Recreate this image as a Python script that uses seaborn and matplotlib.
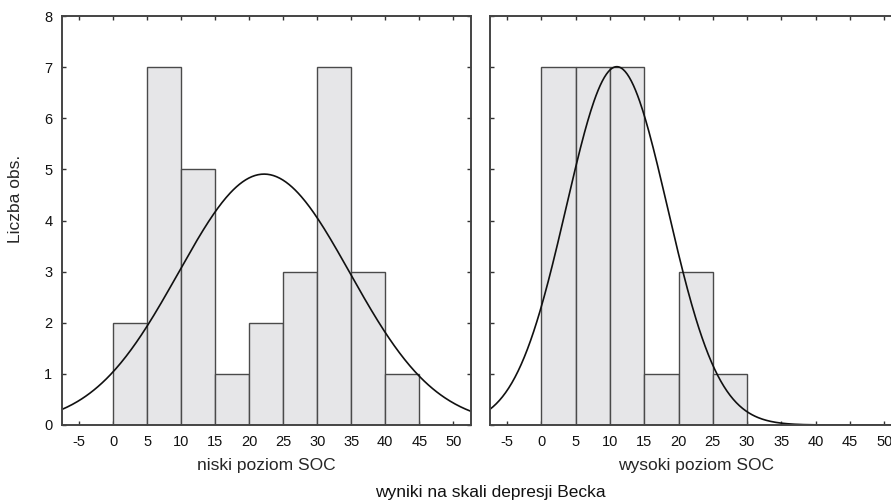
import numpy as np
import pandas as pd
import matplotlib
matplotlib.use("Agg")
import matplotlib.pyplot as plt
import seaborn as sns

# bins of width 5, counts
edges = [0, 5, 10, 15, 20, 25, 30, 35, 40, 45]
low_counts = [2, 7, 5, 1, 2, 3, 7, 3, 1]
high_edges = [0, 5, 10, 15, 20, 25, 30]
high_counts = [7, 7, 7, 1, 3, 1]

# fitted normal curves (mean, sd)
low_mean, low_sd = 22.2, 12.6
high_mean, high_sd = 11.0, 7.4

xticks = [-5, 0, 5, 10, 15, 20, 25, 30, 35, 40, 45, 50]
yticks = [0, 1, 2, 3, 4, 5, 6, 7, 8]

sns.set_style("white")
plt.rcParams["font.family"] = ["Liberation Sans", "DejaVu Sans"]
plt.rcParams["axes.unicode_minus"] = False

fig = plt.figure(figsize=(8.91, 5.04), dpi=100)
W, H = 891, 504
ax1 = fig.add_axes([62 / W, 1 - 425 / H, 409 / W, 409 / H])
ax2 = fig.add_axes([490 / W, 1 - 425 / H, 412 / W, 409 / H])

panels = [
    (ax1, edges, low_counts, low_mean, low_sd, "niski poziom SOC"),
    (ax2, high_edges, high_counts, high_mean, high_sd, "wysoki poziom SOC"),
]

for ax, e, c, mu, sd, lab in panels:
    centers = [(a + b) / 2 for a, b in zip(e[:-1], e[1:])]
    df = pd.DataFrame({"x": centers, "n": c})
    sns.histplot(data=df, x="x", weights="n", bins=e, ax=ax,
                 color="#e6e6e8", edgecolor="#4a4a4a", linewidth=1.0, alpha=1)
    xs = np.linspace(-7.5, 53, 400)
    ys = sum(c) * 5 / (sd * np.sqrt(2 * np.pi)) * np.exp(-0.5 * ((xs - mu) / sd) ** 2)
    ax.plot(xs, ys, color="#111111", lw=1.2)
    ax.set_xlim(-7.5, 52.6)
    ax.set_ylim(0, 8)
    ax.set_xticks(xticks)
    ax.set_yticks(yticks)
    ax.set_xlabel(lab, fontsize=12.5, labelpad=7)
    ax.set_ylabel("")
    ax.tick_params(direction="in", length=3, width=1, top=True, right=True,
                   bottom=True, left=True, labelsize=10.5, colors="#333333",
                   labelcolor="#111111", pad=7)
    for s in ax.spines.values():
        s.set_color("#444444")
        s.set_linewidth(1.4)

ax1.set_ylabel("Liczba obs.", fontsize=12.5)
ax1.yaxis.set_label_coords(-0.096, 0.553)
ax2.tick_params(labelleft=False)

fig.text(490 / W, 1 - 492 / H, "wyniki na skali depresji Becka",
         ha="center", va="center", fontsize=12.5, color="#111111")

fig.savefig("out.png", dpi=100)
